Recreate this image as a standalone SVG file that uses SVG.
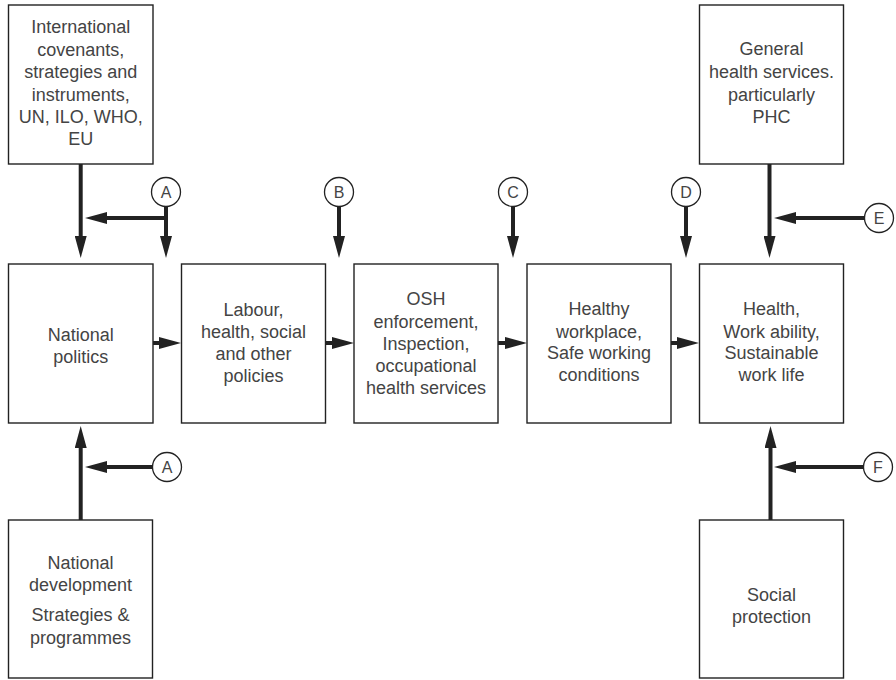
<svg xmlns="http://www.w3.org/2000/svg" width="896" height="680" viewBox="0 0 896 680">
<defs>
<style>
.box{fill:#fff;stroke:#222;stroke-width:1.4}
.t{font-family:"Liberation Sans",Arial,sans-serif;font-size:18px;fill:#444;text-anchor:middle}
.c{fill:#fff;stroke:#222;stroke-width:1.3}
.ct{font-family:"Liberation Sans",Arial,sans-serif;font-size:16px;fill:#444;text-anchor:middle}
.a{stroke:#222;stroke-width:4;fill:none;marker-end:url(#ah)}
.l{stroke:#222;stroke-width:4;fill:none}
</style>
<marker id="ah" markerUnits="userSpaceOnUse" markerWidth="22" markerHeight="12" refX="2" refY="6" orient="auto" viewBox="0 0 22 12">
<path d="M0,0 L22,6 L0,12 Z" fill="#222"/>
</marker>
</defs>

<g id="intl">
<rect class="box" x="8.5" y="5" width="144.5" height="159"/>
<text class="t"><tspan x="80.7" y="33">International</tspan><tspan x="80.7" y="56">covenants,</tspan><tspan x="80.7" y="78">strategies and</tspan><tspan x="80.7" y="101">instruments,</tspan><tspan x="80.7" y="123">UN, ILO, WHO,</tspan><tspan x="80.7" y="145">EU</tspan></text>
</g>

<g id="general">
<rect class="box" x="699.5" y="5" width="144" height="159"/>
<text class="t"><tspan x="771.5" y="55">General</tspan><tspan x="771.5" y="78">health services.</tspan><tspan x="771.5" y="101">particularly</tspan><tspan x="771.5" y="123">PHC</tspan></text>
</g>

<g id="natpol">
<rect class="box" x="8.5" y="264" width="144.5" height="159"/>
<text class="t"><tspan x="80.7" y="341">National</tspan><tspan x="80.7" y="363">politics</tspan></text>
</g>

<g id="labour">
<rect class="box" x="181.5" y="264" width="144" height="159"/>
<text class="t"><tspan x="253.5" y="316">Labour,</tspan><tspan x="253.5" y="338">health, social</tspan><tspan x="253.5" y="360">and other</tspan><tspan x="253.5" y="382">policies</tspan></text>
</g>

<g id="osh">
<rect class="box" x="354" y="264" width="144" height="159"/>
<text class="t"><tspan x="426" y="305">OSH</tspan><tspan x="426" y="327.5">enforcement,</tspan><tspan x="426" y="349.5">Inspection,</tspan><tspan x="426" y="372">occupational</tspan><tspan x="426" y="394">health services</tspan></text>
</g>

<g id="workplace">
<rect class="box" x="527" y="264" width="144" height="159"/>
<text class="t"><tspan x="599" y="315">Healthy</tspan><tspan x="599" y="337.5">workplace,</tspan><tspan x="599" y="359">Safe working</tspan><tspan x="599" y="381">conditions</tspan></text>
</g>

<g id="health">
<rect class="box" x="699.5" y="264" width="144" height="159"/>
<text class="t"><tspan x="771.5" y="315">Health,</tspan><tspan x="771.5" y="337.5">Work ability,</tspan><tspan x="771.5" y="359">Sustainable</tspan><tspan x="771.5" y="381">work life</tspan></text>
</g>

<g id="natdev">
<rect class="box" x="8.5" y="520" width="144" height="158"/>
<text class="t"><tspan x="80.5" y="569">National</tspan><tspan x="80.5" y="591">development</tspan><tspan x="80.5" y="621">Strategies &amp;</tspan><tspan x="80.5" y="644">programmes</tspan></text>
</g>

<g id="socprot">
<rect class="box" x="699.5" y="520" width="144" height="158"/>
<text class="t"><tspan x="771.5" y="601">Social</tspan><tspan x="771.5" y="623">protection</tspan></text>
</g>

<g id="connectors">
<line class="a" x1="80.7" y1="164" x2="80.7" y2="238"/>
<line class="l" x1="166" y1="206" x2="166" y2="220"/>
<line class="a" x1="166" y1="218" x2="166" y2="238"/>
<line class="a" x1="168" y1="218" x2="105" y2="218"/>

<line class="a" x1="339" y1="206" x2="339" y2="238"/>
<line class="a" x1="513" y1="206" x2="513" y2="238"/>
<line class="a" x1="686" y1="206" x2="686" y2="238"/>

<line class="a" x1="769.5" y1="164" x2="769.5" y2="238"/>
<line class="a" x1="864" y1="218" x2="794" y2="218"/>

<line class="a" x1="153" y1="343" x2="161" y2="343"/>
<line class="a" x1="325.5" y1="343" x2="334" y2="343"/>
<line class="a" x1="498" y1="343" x2="507" y2="343"/>
<line class="a" x1="671" y1="343" x2="679" y2="343"/>

<line class="a" x1="80.7" y1="520" x2="80.7" y2="446"/>
<line class="a" x1="152" y1="467" x2="105" y2="467"/>

<line class="a" x1="770.5" y1="520" x2="770.5" y2="446"/>
<line class="a" x1="863" y1="467" x2="794" y2="467"/>
</g>

<g id="circA1"><circle class="c" cx="166" cy="192" r="14.5"/><text class="ct" x="166" y="198">A</text></g>
<g id="circB"><circle class="c" cx="339" cy="192" r="14.5"/><text class="ct" x="339" y="198">B</text></g>
<g id="circC"><circle class="c" cx="513" cy="192" r="14.5"/><text class="ct" x="513" y="198">C</text></g>
<g id="circD"><circle class="c" cx="686" cy="192" r="14.5"/><text class="ct" x="686" y="198">D</text></g>
<g id="circE"><circle class="c" cx="879" cy="218" r="14.5"/><text class="ct" x="879" y="224">E</text></g>
<g id="circA2"><circle class="c" cx="167" cy="467" r="14.5"/><text class="ct" x="167" y="473">A</text></g>
<g id="circF"><circle class="c" cx="878" cy="467" r="14.5"/><text class="ct" x="878" y="473">F</text></g>
</svg>
